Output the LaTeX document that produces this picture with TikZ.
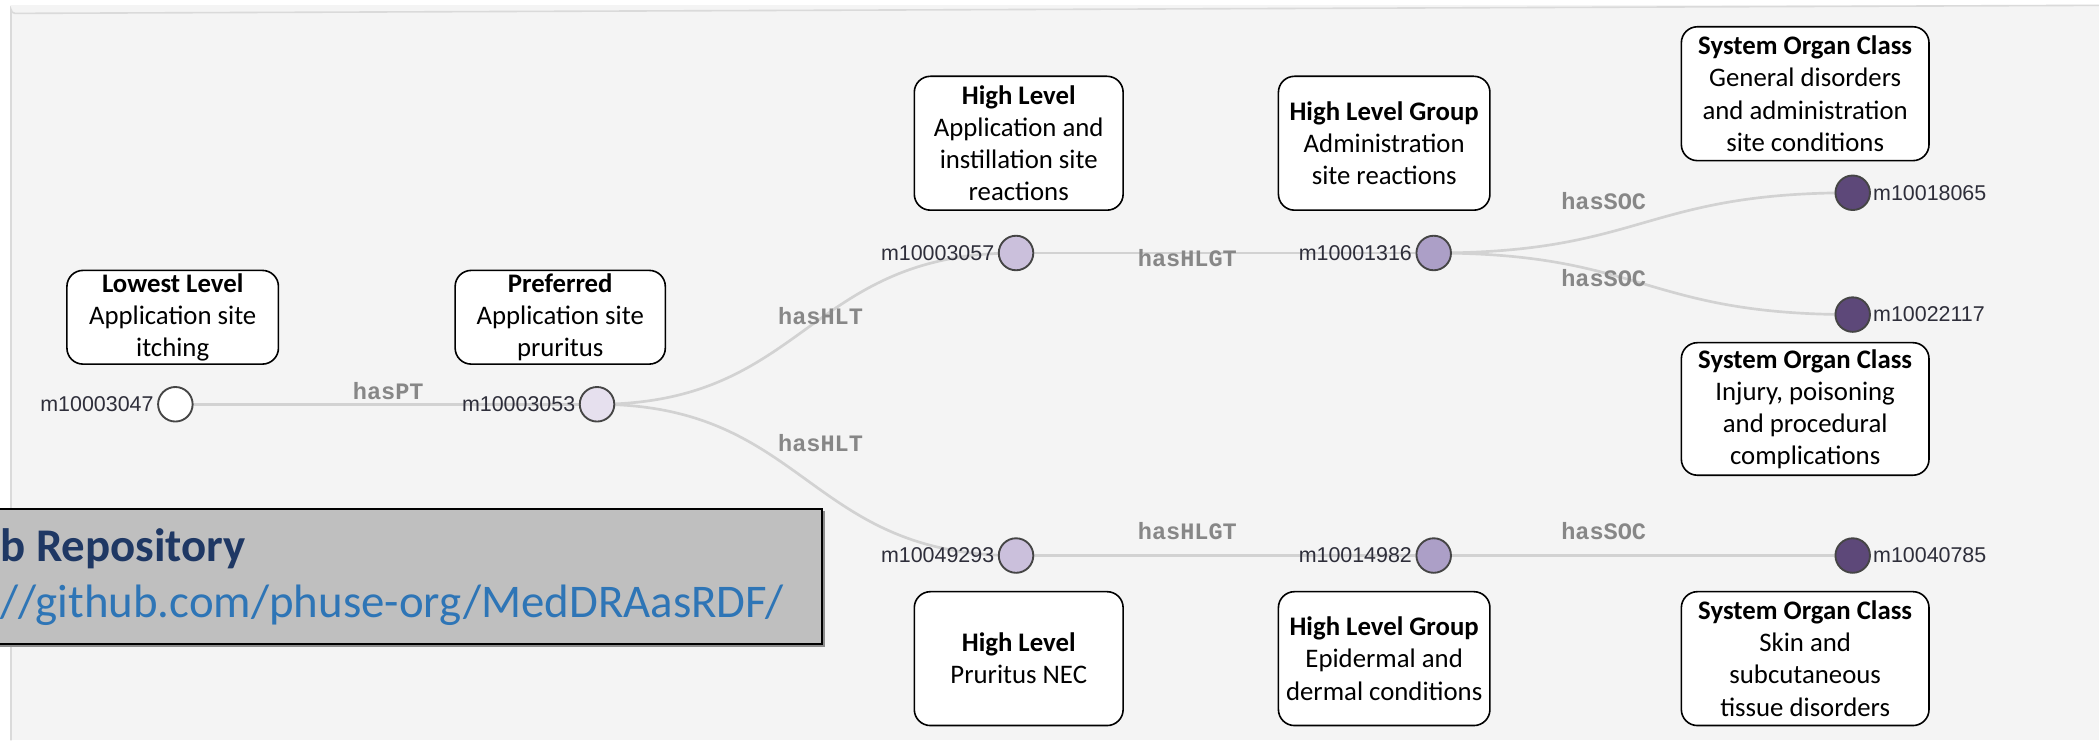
\documentclass[tikz,border=0pt]{standalone}
\usepackage{fontspec}
\setmainfont{Carlito}
\newfontfamily\idfont{Liberation Sans}
\newfontfamily\edgefont{Liberation Mono}
\usetikzlibrary{calc}
\definecolor{panelbg}{HTML}{F4F4F4}
\definecolor{panelline}{HTML}{DADADA}
\definecolor{edgecol}{HTML}{D2D2D2}
\definecolor{labgray}{HTML}{878787}
\definecolor{idcol}{HTML}{2E2E3A}
\definecolor{dotline}{HTML}{454545}
\definecolor{lv1}{HTML}{FFFFFF}
\definecolor{lv2}{HTML}{E6E0EE}
\definecolor{lv3}{HTML}{CBC0DC}
\definecolor{lv4}{HTML}{AC9FC7}
\definecolor{lv5}{HTML}{5D4879}
\definecolor{ghfill}{HTML}{BFBFBF}
\definecolor{ghshadow}{HTML}{8C8C8C}
\definecolor{ghnavy}{HTML}{1F3864}
\definecolor{ghblue}{HTML}{2E75B6}
\pgfdeclarelayer{back}
\pgfdeclarelayer{edges}
\pgfsetlayers{back,edges,main}
\tikzset{
  dot/.style={circle, draw=dotline, line width=1.4pt, minimum size=25.8pt, inner sep=0pt},
  idl/.style={font=\idfont\fontsize{16}{18}\selectfont, text=idcol, inner sep=0pt},
  elab/.style={font=\edgefont\bfseries\fontsize{17.6}{20}\selectfont, text=labgray, inner sep=0pt},
  card/.style={draw=black, fill=white, rounded corners=12pt, line width=1.2pt, align=center,
    inner sep=0pt, font=\fontsize{20}{24}\selectfont},
  link/.style={draw=edgecol, line width=2pt},
  ghtext/.style={anchor=west, inner sep=0pt, font=\fontsize{35}{40}\selectfont}
}
\begin{document}
\begin{tikzpicture}[x=1pt,y=-1pt]
\useasboundingbox (0,0) rectangle (1568,553);
\begin{pgfonlayer}{back}
  \fill[white] (0,0) rectangle (1568,553);
  \fill[panelbg] (8.2,4) rectangle (1568,553);
  \draw[panelline, line width=1.2pt] (8.2,553) -- (8.2,7) arc[start angle=180, end angle=90, radius=3] -- (1568,4);
\end{pgfonlayer}

% tree nodes
\node[dot, fill=lv1] (n1) at (131,302) {};
\node[dot, fill=lv2] (n2) at (446,302) {};
\node[dot, fill=lv3] (n3) at (759,189) {};
\node[dot, fill=lv3] (n4) at (759,415) {};
\node[dot, fill=lv4] (n5) at (1071,189) {};
\node[dot, fill=lv4] (n6) at (1071,415) {};
\node[dot, fill=lv5] (n7) at (1384,144) {};
\node[dot, fill=lv5] (n8) at (1384,235) {};
\node[dot, fill=lv5] (n9) at (1384,415) {};

% id labels
\node[idl, anchor=east] (i1) at ([xshift=-2.5pt]n1.west) {m10003047};
\node[idl, anchor=east] (i2) at ([xshift=-2.5pt]n2.west) {m10003053};
\node[idl, anchor=east] (i3) at ([xshift=-2.5pt]n3.west) {m10003057};
\node[idl, anchor=east] (i4) at ([xshift=-2.5pt]n4.west) {m10049293};
\node[idl, anchor=east] (i5) at ([xshift=-2.5pt]n5.west) {m10001316};
\node[idl, anchor=east] (i6) at ([xshift=-2.5pt]n6.west) {m10014982};
\node[idl, anchor=west] (i7) at ([xshift=1.5pt]n7.east) {m10018065};
\node[idl, anchor=west] (i8) at ([xshift=1.5pt]n8.east) {m10022117};
\node[idl, anchor=west] (i9) at ([xshift=1.5pt]n9.east) {m10040785};

% connectors
\begin{pgfonlayer}{edges}
  \draw[link] (n1.center) -- (n2.center);
  \draw[link] (n2.center) .. controls +(156.5,0) and +(-156.5,0) .. (n3.center);
  \draw[link] (n2.center) .. controls +(156.5,0) and +(-156.5,0) .. (n4.center);
  \draw[link] (n3.center) -- (n5.center);
  \draw[link] (n4.center) -- (n6.center);
  \draw[link] (n5.center) .. controls +(156.5,0) and +(-156.5,0) .. (n7.center);
  \draw[link] (n5.center) .. controls +(156.5,0) and +(-156.5,0) .. (n8.center);
  \draw[link] (n6.center) -- (n9.center);
\end{pgfonlayer}

% connector labels
\node[elab] (l12) at (290,292) {hasPT};
\node[elab] (l23) at (613,236) {hasHLT};
\node[elab] (l24) at (613,331) {hasHLT};
\node[elab] (l35) at (887,193) {hasHLGT};
\node[elab] (l46) at (887,397) {hasHLGT};
\node[elab] (l57) at (1198,150) {hasSOC};
\node[elab] (l58) at (1198,208) {hasSOC};
\node[elab] (l69) at (1198,397) {hasSOC};

% cards
\node[card, minimum width=158pt, minimum height=70pt] (b1) at (129,237)
  {\textbf{Lowest Level}\\Application site\\itching};
\node[card, minimum width=157pt, minimum height=70pt] (b2) at (418.5,237)
  {\textbf{Preferred}\\Application site\\pruritus};
\node[card, minimum width=156pt, minimum height=100pt] (b3) at (761,107)
  {\textbf{High Level}\\Application and\\instillation site\\reactions};
\node[card, minimum width=158pt, minimum height=100pt] (b4) at (1034,107)
  {\textbf{High Level Group}\\Administration\\site reactions};
\node[card, minimum width=185pt, minimum height=100pt] (b5) at (1348.5,70)
  {\textbf{System Organ Class}\\General disorders\\and administration\\site conditions};
\node[card, minimum width=185pt, minimum height=99pt] (b6) at (1348.5,305.5)
  {\textbf{System Organ Class}\\Injury, poisoning\\and procedural\\complications};
\node[card, minimum width=156pt, minimum height=100pt] (b7) at (761,492)
  {\textbf{High Level}\\Pruritus NEC};
\node[card, minimum width=158pt, minimum height=100pt] (b8) at (1034,492)
  {\textbf{High Level Group}\\Epidermal and\\dermal conditions};
\node[card, minimum width=185pt, minimum height=100pt] (b9) at (1348.5,492)
  {\textbf{System Organ Class}\\Skin and\\subcutaneous\\tissue disorders};

% repository overlay
\fill[ghshadow] (0,382) rectangle (616,483);
\fill[ghfill] (0,380) rectangle (614,481);
\draw[black, line width=1.5pt] (0,380) -- (614,380) -- (614,481) -- (0,481);
\node[ghtext, text=ghnavy] (gh1) at (0,410) {\textbf{b Repository}};
\node[ghtext, text=ghblue] (gh2) at (0,452) {//github.com/phuse-org/MedDRAasRDF/};
\end{tikzpicture}
\end{document}
